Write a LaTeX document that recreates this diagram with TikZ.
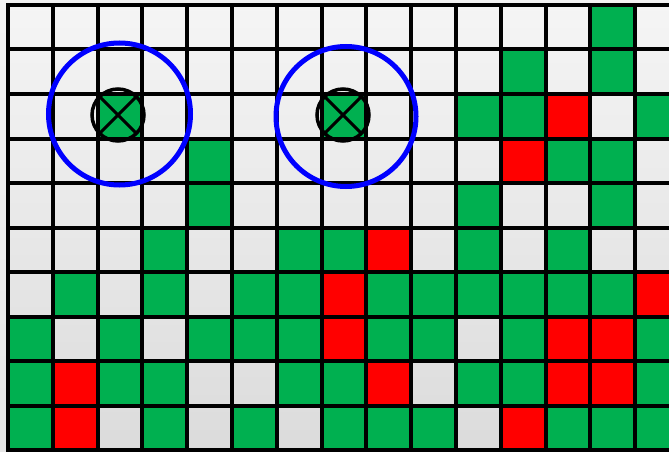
\documentclass[tikz,border=0pt]{standalone}
\usepackage{tikz}
\usepackage{xcolor}
\definecolor{verde}{RGB}{0,176,80}
\definecolor{rosso}{RGB}{255,0,0}
\definecolor{blu}{RGB}{0,0,255}
\newcommand{\lc}{44.8}
\newcommand{\hc}{44.5}

\begin{document}
\begin{tikzpicture}[x=1pt, y=-1pt]
\useasboundingbox (0,0) rectangle (669,452);
% --- sfondo ---
\shade[top color=gray!9, bottom color=gray!20] (0,0) rectangle (669,452);
\begin{scope}
\clip (0,0) rectangle (669,452);
\shade[top color=gray!8, bottom color=gray!28] (8,5) rectangle (669,450);
% --- celle verdi ---
\foreach \c/\r in {13/0, 11/1, 13/1, 2/2, 7/2, 10/2, 11/2, 14/2, 4/3, 12/3, 13/3,
  4/4, 10/4, 13/4, 3/5, 6/5, 7/5, 10/5, 12/5,
  1/6, 3/6, 5/6, 6/6, 8/6, 9/6, 10/6, 11/6, 12/6, 13/6,
  0/7, 2/7, 4/7, 5/7, 6/7, 8/7, 9/7, 11/7, 14/7,
  0/8, 2/8, 3/8, 6/8, 7/8, 10/8, 11/8, 14/8,
  0/9, 3/9, 5/9, 7/9, 8/9, 9/9, 12/9, 13/9, 14/9}
  \fill[verde] ({8+\c*\lc},{5+\r*\hc}) rectangle ++(\lc,\hc);
% --- celle rosse ---
\foreach \c/\r in {12/2, 11/3, 8/5, 7/6, 14/6, 7/7, 12/7, 13/7,
  1/8, 8/8, 12/8, 13/8, 1/9, 11/9}
  \fill[rosso] ({8+\c*\lc},{5+\r*\hc}) rectangle ++(\lc,\hc);
% --- griglia ---
\foreach \i in {0,...,15}
  \draw[line width=4pt] ({8+\i*\lc},5) -- ({8+\i*\lc},450);
\foreach \j in {0,...,10}
  \draw[line width=4pt] (6,{5+\j*\hc}) -- (680,{5+\j*\hc});
\end{scope}
% --- marcatori ---
\foreach \x/\y in {118/115, 343/115} {
  \draw[line width=3.5pt] (\x,\y) circle (26pt);
  \draw[line width=3pt] (\x,\y) +(-19,-19) -- +(19,19);
  \draw[line width=3pt] (\x,\y) +(-19,19) -- +(19,-19);
}
\draw[blu, line width=5pt] (119.5,114) circle (71pt);
\draw[blu, line width=5pt] (346,116.5) circle (70pt);
\end{tikzpicture}
\end{document}
